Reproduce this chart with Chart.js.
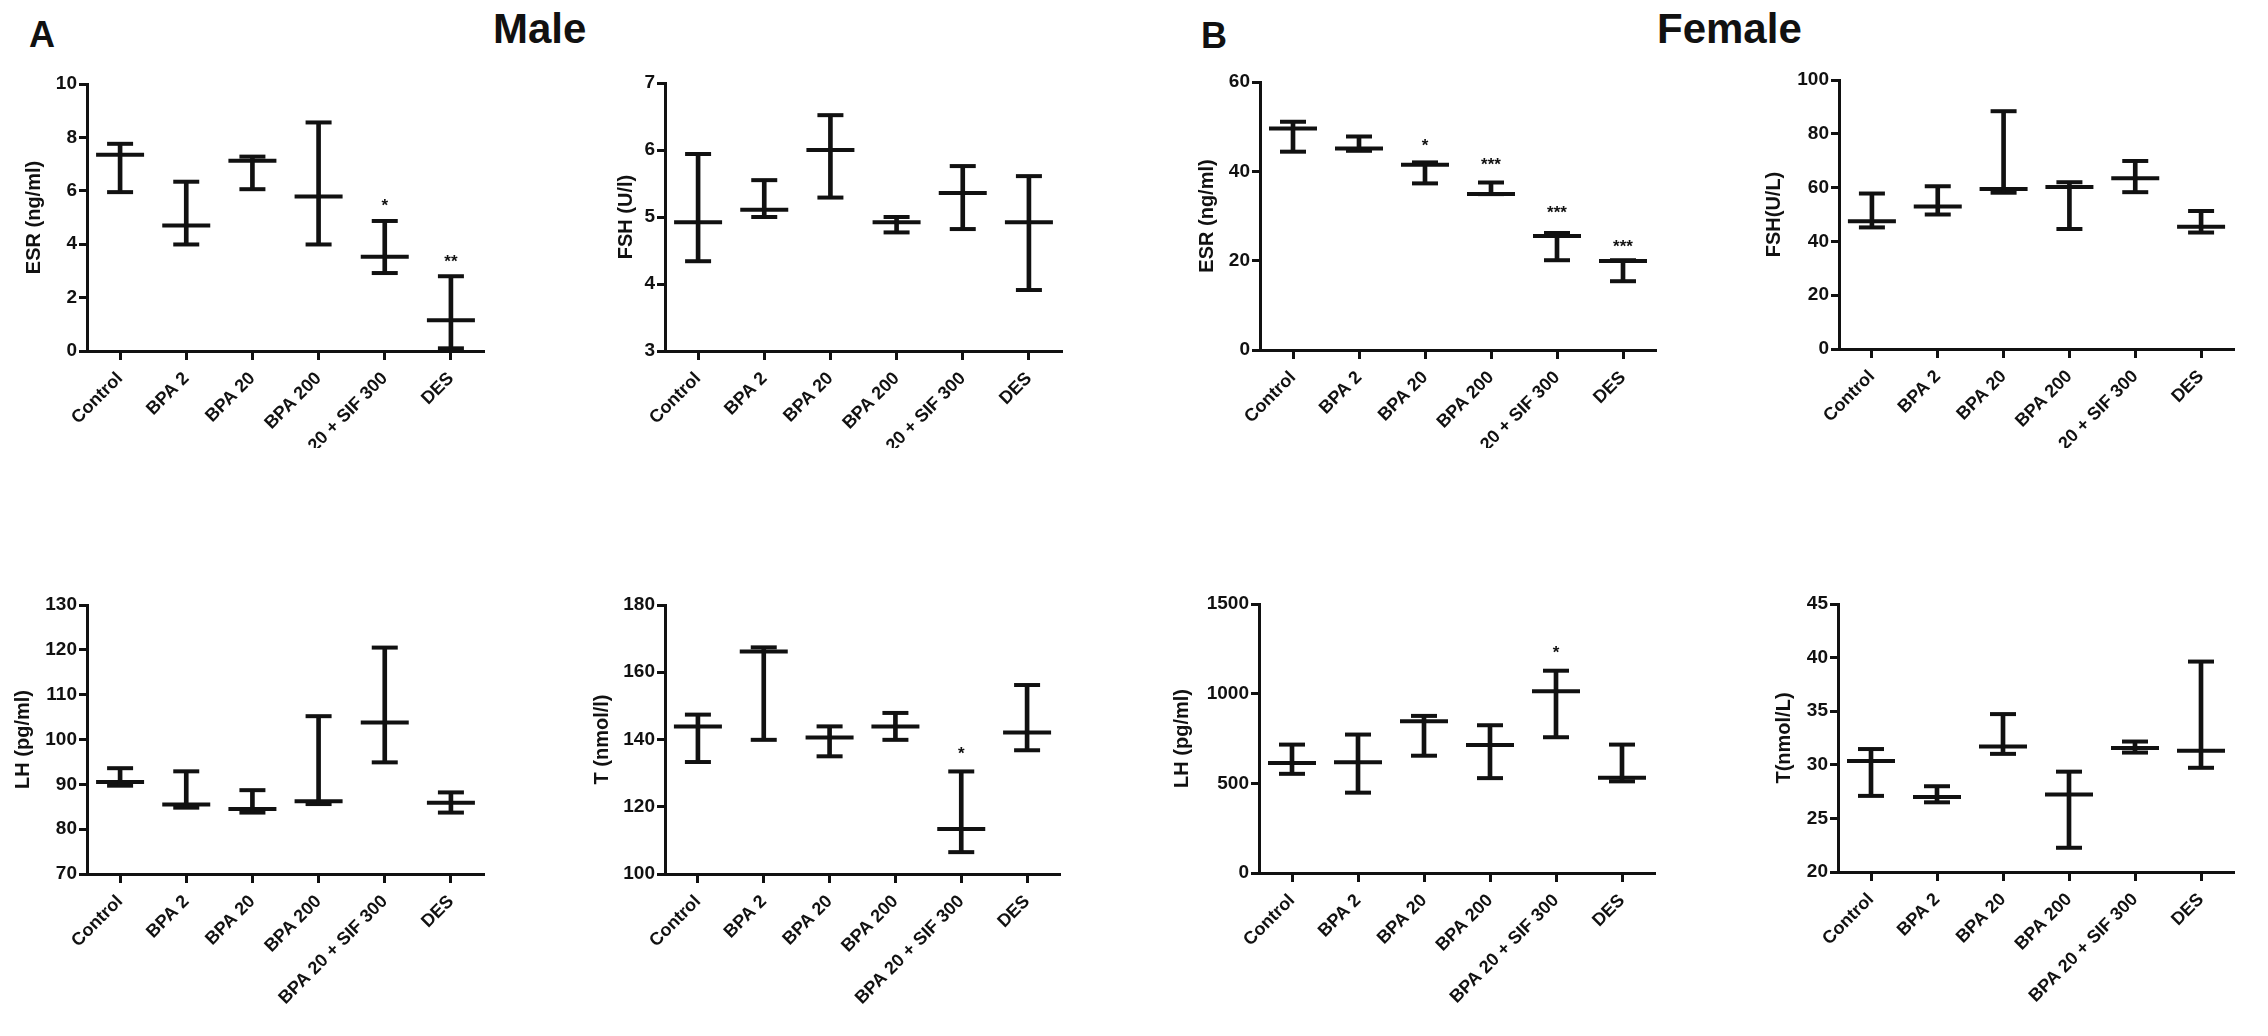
<!DOCTYPE html>
<html>
<head>
<meta charset="utf-8">
<script src="https://cdn.jsdelivr.net/npm/chart.js@4.4.0/dist/chart.umd.min.js"></script>
<style>
  html, body { margin: 0; padding: 0; background: #fff; width: 2268px; height: 1036px; overflow: hidden; }
  .box { position: absolute; }
  .head { position: absolute; font-family: 'Liberation Sans', Arial, sans-serif; font-weight: bold; color: #111; line-height: 1; white-space: nowrap; }
</style>
</head>
<body>
<div class="head" style="left:29px;top:17px;font-size:36px">A</div>
<div class="head" style="left:493px;top:8px;font-size:42px">Male</div>
<div class="head" style="left:1201px;top:18px;font-size:36px">B</div>
<div class="head" style="left:1657px;top:8px;font-size:42px">Female</div>

<script>
// groups on the x axis (same for all eight panels)
const groups = ['Control', 'BPA 2', 'BPA 20', 'BPA 200', 'BPA 20 + SIF 300', 'DES'];

// Male ESR (ng/ml) : median with range
const maleEsrMax = [7.76, 6.34, 7.28, 8.56, 4.87, 2.80];
const maleEsrMed = [7.35, 4.70, 7.13, 5.79, 3.53, 1.15];
const maleEsrMin = [5.95, 3.99, 6.06, 3.99, 2.92, 0.10];
const maleEsrStars = ['', '', '', '', '*', '**'];
const maleEsrStarAt = [null, null, null, null, 5.6, 3.5];

// Male FSH (U/l)
const maleFshMax = [5.94, 5.55, 6.52, 5.00, 5.76, 5.61];
const maleFshMed = [4.92, 5.11, 6.00, 4.92, 5.36, 4.92];
const maleFshMin = [4.34, 5.00, 5.29, 4.77, 4.82, 3.91];

// Female ESR (ng/ml)
const femEsrMax = [51.1, 47.8, 42.0, 37.5, 26.2, 20.1];
const femEsrMed = [49.6, 45.1, 41.5, 34.9, 25.5, 19.9];
const femEsrMin = [44.4, 44.6, 37.3, 34.9, 20.1, 15.4];
const femEsrStars = ['', '', '*', '***', '***', '***'];
const femEsrStarAt = [null, null, 46.7, 42.6, 31.7, 24.2];

// Female FSH (U/L)
const femFshMax = [57.8, 60.5, 88.4, 62.0, 69.9, 51.3];
const femFshMed = [47.5, 53.0, 59.5, 60.2, 63.5, 45.4];
const femFshMin = [45.2, 50.0, 58.1, 44.6, 58.3, 43.3];

// Male LH (pg/ml)
const maleLhMax = [93.6, 92.9, 88.7, 105.2, 120.5, 88.2];
const maleLhMed = [90.5, 85.5, 84.5, 86.2, 103.8, 85.9];
const maleLhMin = [89.7, 84.8, 83.7, 85.6, 94.9, 83.7];

// Male T (nmol/l)
const maleTMax = [147.4, 167.4, 143.9, 147.9, 130.5, 156.2];
const maleTMed = [143.9, 166.2, 140.6, 143.9, 113.4, 142.1];
const maleTMin = [133.3, 139.9, 135.0, 139.9, 106.5, 136.8];
const maleTStars = ['', '', '', '', '*', ''];
const maleTStarAt = [null, null, null, null, 137.0, null];

// Female LH (pg/ml)
const femLhMax = [716, 772, 876, 824, 1128, 716];
const femLhMed = [613, 618, 846, 714, 1014, 531];
const femLhMin = [553, 448, 654, 529, 757, 511];
const femLhStars = ['', '', '', '', '*', ''];
const femLhStarAt = [null, null, null, null, 1252, null];

// Female T (nmol/L)
const femTMax = [31.47, 28.0, 34.73, 29.36, 32.17, 39.63];
const femTMed = [30.36, 27.0, 31.71, 27.22, 31.56, 31.32];
const femTMin = [27.10, 26.5, 31.02, 22.26, 31.14, 29.72];

// y axis ranges [min, max, step]
const maleEsrAxis = [0, 10, 2];
const maleFshAxis = [3, 7, 1];
const femEsrAxis = [0, 60, 20];
const femFshAxis = [0, 100, 20];
const maleLhAxis = [70, 130, 10];
const maleTAxis = [100, 180, 20];
const femLhAxis = [0, 1500, 500];
const femTAxis = [20, 45, 5];

const ink = '#111';
const fam = "'Liberation Sans', Arial, sans-serif";
Chart.defaults.font.family = fam;
Chart.defaults.color = ink;

// cl/cr/ct/cb = plot area edges on the page, gap = axis to title centre, edge = bottom of the panel box
const panels = [
  { title: 'ESR (ng/ml)', hi: maleEsrMax, mid: maleEsrMed, lo: maleEsrMin, axis: maleEsrAxis, stars: maleEsrStars, starAt: maleEsrStarAt,
    cl: 87, cr: 502, ct: 76, cb: 351, gap: 53, edge: 448 },
  { title: 'FSH (U/l)', hi: maleFshMax, mid: maleFshMed, lo: maleFshMin, axis: maleFshAxis,
    cl: 665, cr: 1080, ct: 75, cb: 351, gap: 39, edge: 448 },
  { title: 'ESR (ng/ml)', hi: femEsrMax, mid: femEsrMed, lo: femEsrMin, axis: femEsrAxis, stars: femEsrStars, starAt: femEsrStarAt,
    cl: 1260, cr: 1674, ct: 74, cb: 350, gap: 53, edge: 448 },
  { title: 'FSH(U/L)', hi: femFshMax, mid: femFshMed, lo: femFshMin, axis: femFshAxis,
    cl: 1839, cr: 2252, ct: 72, cb: 349, gap: 65, edge: 448 },
  { title: 'LH (pg/ml)', hi: maleLhMax, mid: maleLhMed, lo: maleLhMin, axis: maleLhAxis,
    cl: 87, cr: 502, ct: 597, cb: 874, gap: 64, edge: 1036 },
  { title: 'T (nmol/l)', hi: maleTMax, mid: maleTMed, lo: maleTMin, axis: maleTAxis, stars: maleTStars, starAt: maleTStarAt,
    cl: 665, cr: 1078, ct: 597, cb: 874, gap: 63, edge: 1036 },
  { title: 'LH (pg/ml)', hi: femLhMax, mid: femLhMed, lo: femLhMin, axis: femLhAxis, stars: femLhStars, starAt: femLhStarAt,
    cl: 1259, cr: 1673, ct: 596, cb: 873, gap: 77, edge: 1036 },
  { title: 'T(nmol/L)', hi: femTMax, mid: femTMed, lo: femTMin, axis: femTAxis,
    cl: 1838, cr: 2252, ct: 596, cb: 872, gap: 54, edge: 1036 }
];

function capSet(values, half) {
  return {
    type: 'line', data: values, showLine: false, clip: false,
    pointStyle: 'line', pointRadius: half, pointHoverRadius: half,
    pointBorderWidth: 4, pointBorderColor: ink, pointBackgroundColor: ink
  };
}

function makePanel(p) {
  const yw = p.gap + 12;
  const padL = 8, padT = 20, padR = 10;
  const left = p.cl - yw - padL;
  const top = p.ct - padT;
  const box = document.createElement('div');
  box.className = 'box';
  box.style.left = left + 'px';
  box.style.top = top + 'px';
  box.style.width = (p.cr + padR - left) + 'px';
  box.style.height = (p.edge - top) + 'px';
  const cv = document.createElement('canvas');
  box.appendChild(cv);
  document.body.appendChild(box);

  const xh = p.edge - p.cb;

  const starPlugin = {
    id: 'stars',
    afterDatasetsDraw(chart) {
      if (!p.stars) return;
      const ctx = chart.ctx;
      const xs = chart.scales.x, ys = chart.scales.y;
      ctx.save();
      ctx.fillStyle = ink;
      ctx.font = 'bold 17px ' + fam;
      ctx.textAlign = 'center';
      ctx.textBaseline = 'alphabetic';
      p.stars.forEach((s, i) => {
        if (!s) return;
        ctx.fillText(s, xs.getPixelForValue(i), ys.getPixelForValue(p.starAt[i]) + 0.58 * 17);
      });
      ctx.restore();
    }
  };

  new Chart(cv, {
    type: 'bar',
    data: {
      labels: groups,
      datasets: [
        { type: 'bar', data: p.lo.map((v, i) => [v, p.hi[i]]), backgroundColor: ink, borderWidth: 0, barThickness: 4 },
        capSet(p.hi, 13),
        capSet(p.lo, 13),
        capSet(p.mid, 24)
      ]
    },
    options: {
      responsive: true,
      maintainAspectRatio: false,
      animation: false,
      events: [],
      layout: { padding: { left: padL, top: padT, right: padR, bottom: 0 } },
      plugins: { legend: { display: false }, tooltip: { enabled: false } },
      scales: {
        x: {
          offset: true,
          grid: { offset: false, drawOnChartArea: false, tickLength: 9, tickWidth: 3, tickColor: ink },
          border: { color: ink, width: 3 },
          ticks: { color: ink, font: { size: 18, weight: 'bold' }, minRotation: 45, maxRotation: 45, autoSkip: false, padding: 8 },
          afterFit: s => { s.height = xh; }
        },
        y: {
          min: p.axis[0], max: p.axis[1],
          ticks: { stepSize: p.axis[2], color: ink, font: { size: 19, weight: 'bold' }, padding: 2, callback: v => String(v) },
          grid: { drawOnChartArea: false, tickLength: 8, tickWidth: 3, tickColor: ink },
          border: { color: ink, width: 3 },
          title: { display: true, text: p.title, color: ink, font: { size: 20, weight: 'bold' }, padding: 0 },
          afterFit: s => { s.width = yw; }
        }
      }
    },
    plugins: [starPlugin]
  });
}

panels.forEach(makePanel);
</script>
</body>
</html>
